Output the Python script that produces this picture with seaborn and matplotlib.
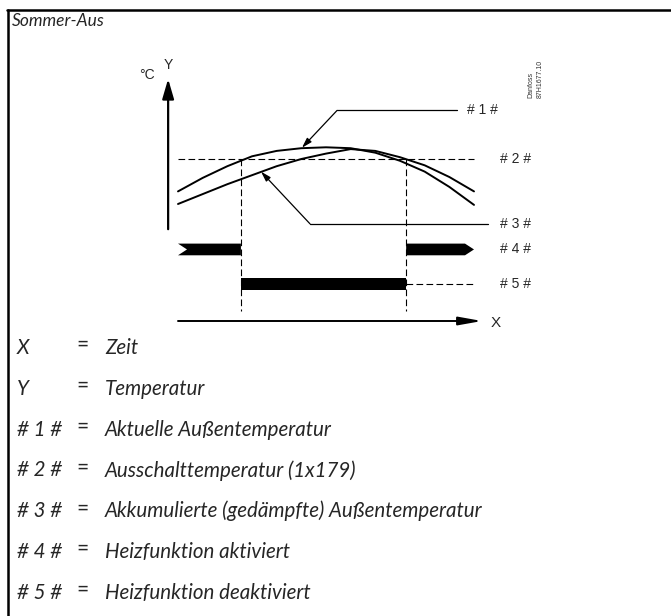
import numpy as np
import pandas as pd
import matplotlib.pyplot as plt
import seaborn as sns
from matplotlib.lines import Line2D

# Daten: Zeit (h) und Temperaturen (°C) der Skizze
time_h = [0, 2, 4, 6, 8, 10, 12, 14, 16, 18, 20, 22, 24]
temp_actual = [14.4, 15.9, 17.2, 18.3, 18.9, 19.2, 19.3, 19.2, 18.7, 17.8, 16.6, 14.9, 12.9]
temp_accum = [13.0, 14.1, 15.2, 16.2, 17.2, 18.0, 18.6, 19.1, 18.9, 18.2, 17.3, 16.0, 14.4]
temp_cutout = 18.0          # Ausschalttemperatur
t_off, t_on = 5.1, 18.5     # Heizung aus / wieder an

legend_keys = ['X', 'Y', '# 1 #', '# 2 #', '# 3 #', '# 4 #', '# 5 #']
legend_texts = ['Zeit', 'Temperatur', 'Aktuelle Außentemperatur',
                'Ausschalttemperatur (1x179)',
                'Akkumulierte (gedämpfte) Außentemperatur',
                'Heizfunktion aktiviert', 'Heizfunktion deaktiviert']

df = pd.DataFrame({'t': time_h, 'actual': temp_actual, 'accum': temp_accum})

sns.set_theme(style='white')
plt.rcParams['font.family'] = ['Liberation Sans', 'DejaVu Sans']
ital = ['Lato', 'DejaVu Sans']

W, H = 671, 616
fig = plt.figure(figsize=(W / 100, H / 100), dpi=100)
ax = fig.add_axes([0, 0, 1, 1])
# Skala: 0 h bei px 178, 24 h bei px 474; 0 °C bei px 321, 9 px je °C
sx, sy = 296 / 24, 9.0
ax.set_xlim(-178 / sx, (W - 178) / sx)
ax.set_ylim((321 - H) / sy, 321 / sy)
ax.axis('off')

def fx(px):
    return px / W

def fy(py):
    return 1 - py / H

# Rahmen
fig.add_artist(Line2D([fx(7), fx(W)], [fy(10), fy(10)], color='black', lw=1.8))
fig.add_artist(Line2D([fx(8), fx(8)], [fy(10), fy(H)], color='black', lw=1.8))
fig.text(fx(12), fy(21), 'Sommer-Aus', fontsize=12.5, style='italic',
         family=ital, va='center', ha='left')

# Kurven
sns.lineplot(data=df, x='t', y='actual', ax=ax, color='black', lw=1.4, legend=False)
sns.lineplot(data=df, x='t', y='accum', ax=ax, color='black', lw=1.4, legend=False)

# Achsen mit Pfeilen
ax.annotate('', xy=(-0.8, 26.9), xytext=(-0.8, 10.2),
            arrowprops=dict(arrowstyle='-|>,head_length=1.2,head_width=0.35',
                            lw=1.6, color='black', mutation_scale=10,
                            shrinkA=0, shrinkB=0))
ax.annotate('', xy=(24.65, 0), xytext=(0, 0),
            arrowprops=dict(arrowstyle='-|>,head_length=1.4,head_width=0.25',
                            lw=1.4, color='black', mutation_scale=10,
                            shrinkA=0, shrinkB=0))
ax.text(-0.8, 28.4, 'Y', fontsize=10, ha='center', va='center')
ax.text(-2.5, 27.3, '°C', fontsize=10, ha='center', va='center')
ax.text(25.8, -0.2, 'X', fontsize=11, ha='center', va='center')

# Ausschalttemperatur und Schaltzeitpunkte
dash = (0, (6, 3))
ax.plot([0, 24], [temp_cutout, temp_cutout], color='black', lw=0.8, ls=dash)
for t in (t_off, t_on):
    ax.plot([t, t], [temp_cutout, 1.1], color='black', lw=0.8, ls=dash)

# Heizfunktion aktiviert (# 4 #)
y4a, y4b = 7.3, 8.6
y4m = (y4a + y4b) / 2
ax.fill([0, t_off, t_off, 0, 0.73], [y4a, y4a, y4b, y4b, y4m], color='black', lw=0)
ax.fill([t_on, 23.27, 24, 23.27, t_on], [y4a, y4a, y4m, y4b, y4b], color='black', lw=0)

# Heizfunktion deaktiviert (# 5 #)
y5a, y5b = 3.4, 4.8
ax.fill([t_off, t_on, t_on, t_off], [y5a, y5a, y5b, y5b], color='black', lw=0)
ax.plot([t_on, 24], [(y5a + y5b) / 2] * 2, color='black', lw=0.8, ls=dash)

# Hinweislinien
small = dict(arrowstyle='-|>,head_length=0.6,head_width=0.18', lw=0.9,
             color='black', mutation_scale=10, shrinkA=0, shrinkB=0)
ax.plot([22.6, 12.9], [23.4, 23.4], color='black', lw=0.9)
ax.annotate('', xy=(10.05, 19.25), xytext=(12.9, 23.4), arrowprops=small)
ax.plot([25.1, 10.7], [10.8, 10.8], color='black', lw=0.9)
ax.annotate('', xy=(6.73, 16.6), xytext=(10.7, 10.8), arrowprops=small)

ax.text(23.4, 23.4, '# 1 #', fontsize=10, ha='left', va='center')
ax.text(26.1, temp_cutout, '# 2 #', fontsize=10, ha='left', va='center')
ax.text(26.1, 10.8, '# 3 #', fontsize=10, ha='left', va='center')
ax.text(26.1, y4m, '# 4 #', fontsize=10, ha='left', va='center')
ax.text(26.1, (y5a + y5b) / 2, '# 5 #', fontsize=10, ha='left', va='center')

# Zeichnungsnummer
fig.text(fx(531), fy(98), 'Danfoss', fontsize=5, rotation=90, ha='center', va='bottom', color='#333333')
fig.text(fx(540), fy(98), '87H1677.10', fontsize=5, rotation=90, ha='center', va='bottom', color='#333333')

# Legende
for i, (k, txt) in enumerate(zip(legend_keys, legend_texts)):
    py = 348 + i * 40.8
    fig.text(fx(17), fy(py), k, fontsize=14.8, style='italic',
             family=ital, va='center', ha='left')
    fig.text(fx(82.5), fy(py - 3), '=', fontsize=15,
             family=ital, va='center', ha='center')
    fig.text(fx(105), fy(py), txt, fontsize=14.8, style='italic',
             family=ital, va='center', ha='left')

fig.savefig('out.png', dpi=100)
